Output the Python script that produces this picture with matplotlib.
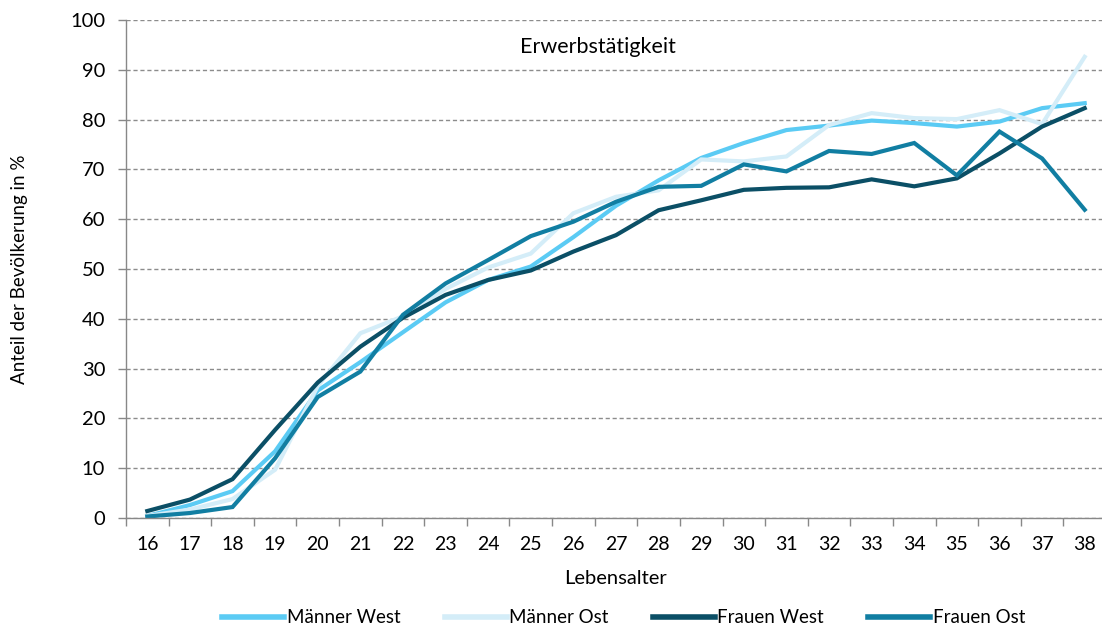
import matplotlib
matplotlib.use("Agg")
import matplotlib.pyplot as plt
from matplotlib.ticker import FixedLocator

ages = list(range(16, 39))
maenner_west = [0.4, 2.6, 5.4, 13.4, 25.6, 31.3, 37.3, 43.3, 47.8, 50.5, 56.4, 62.7, 67.8, 72.3,
                75.3, 77.9, 78.8, 79.8, 79.3, 78.6, 79.6, 82.3, 83.3]
maenner_ost = [0.4, 1.7, 3.8, 9.7, 26.5, 37.1, 40.5, 46.0, 50.3, 53.1, 61.2, 64.5, 65.8, 72.0,
               71.6, 72.6, 78.9, 81.3, 80.3, 80.1, 81.9, 79.1, 92.6]
frauen_west = [1.4, 3.7, 7.8, 17.7, 27.2, 34.4, 40.2, 44.8, 47.8, 49.7, 53.5, 56.8, 61.8, 63.8,
               65.9, 66.3, 66.4, 68.0, 66.6, 68.2, 73.2, 78.6, 82.3]
frauen_ost = [0.3, 1.0, 2.2, 12.0, 24.3, 29.4, 40.8, 47.1, 51.8, 56.6, 59.5, 63.5, 66.5, 66.7,
              71.0, 69.6, 73.7, 73.1, 75.3, 68.8, 77.6, 72.2, 61.9]

series = [("Männer West", maenner_west, "#5BCBF4"),
          ("Männer Ost", maenner_ost, "#D4EDF8"),
          ("Frauen West", frauen_west, "#0B4F66"),
          ("Frauen Ost", frauen_ost, "#117EA2")]

plt.rcParams['font.family'] = ['Lato', 'DejaVu Sans']

fig = plt.figure(figsize=(11.02, 6.28), dpi=100)
ax = fig.add_axes([126/1102, 110/628, 980/1102, 498/628])

x = list(range(len(ages)))
for name, vals, col in series:
    ax.plot(x, vals, color=col, lw=3, label=name, solid_joinstyle='miter')

ax.set_xlim(-0.5, len(ages) - 0.5)
ax.set_ylim(0, 100)
ax.set_yticks(range(0, 101, 10))
ax.set_xticks(x)
ax.set_xticklabels([str(a) for a in ages])
ax.xaxis.set_minor_locator(FixedLocator([i - 0.5 for i in range(len(ages) + 1)]))
ax.tick_params(axis='x', which='major', length=0, pad=13, labelsize=14)
ax.tick_params(axis='x', which='minor', length=6, color='#888888', width=1)
ax.tick_params(axis='y', length=6, color='#888888', width=1, labelsize=14.5, pad=9)

ax.grid(axis='y', linestyle=(0, (3, 2)), color='#8c8c8c', lw=1)
ax.set_axisbelow(True)
for s in ['top', 'right']:
    ax.spines[s].set_visible(False)
for s in ['left', 'bottom']:
    ax.spines[s].set_color('#888888')
    ax.spines[s].set_linewidth(1)

ax.text(0.482, 0.945, "Erwerbstätigkeit", transform=ax.transAxes, ha='center', va='center', fontsize=15.5)
ax.set_xlabel("Lebensalter", fontsize=14.5, labelpad=12)
ax.set_ylabel("Anteil der Bevölkerung in %", fontsize=13.5)
ax.yaxis.set_label_coords(-0.1, 0.5)

leg = fig.legend(loc='center', bbox_to_anchor=(0.566, 0.016), ncol=4, frameon=False,
                 fontsize=13.5, handlelength=3.3, handletextpad=0.15, columnspacing=2.35)
for line in leg.get_lines():
    line.set_linewidth(4)

fig.savefig("out.png", dpi=100)
